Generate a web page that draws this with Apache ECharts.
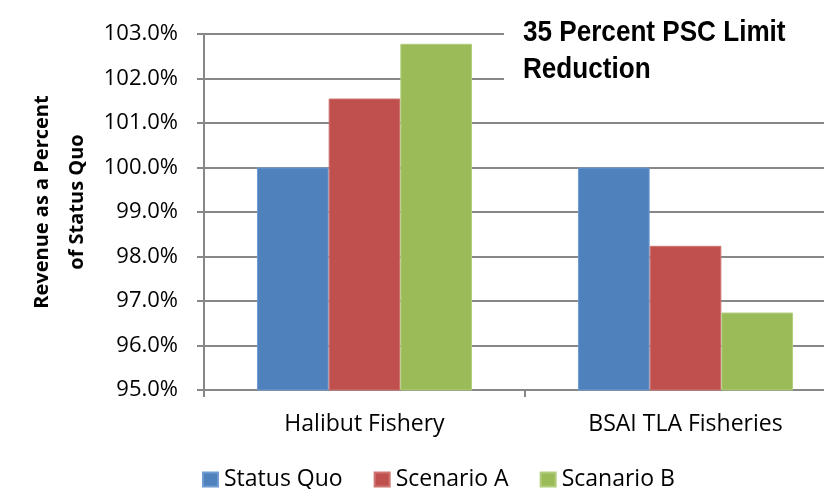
<!DOCTYPE html>
<html>
<head>
<meta charset="utf-8">
<script src="https://cdn.jsdelivr.net/npm/echarts@6/dist/echarts.min.js"></script>
<style>
html,body{margin:0;padding:0;background:#fff;}
#chart{width:824px;height:489px;}
</style>
</head>
<body>
<div id="chart"></div>
<script>
const categories = ['Halibut Fishery', 'BSAI TLA Fisheries'];
const seriesNames = ['Status Quo', 'Scenario A', 'Scanario B'];
const statusQuo = [100.0, 100.0];
const scenarioA = [101.55, 98.24];
const scenarioB = [102.78, 96.74];
const yTicks = { min: 95, max: 103, interval: 1 };
const titleText = '35 Percent PSC Limit\nReduction';
const yAxisTitle = 'Revenue as a Percent\nof Status Quo';

const colors = ['#4F81BD', '#C0504D', '#9BBB59'];
const borders = ['#6f9bd3', '#cf7471', '#b1cd7c'];
const values = [statusQuo, scenarioA, scenarioB];

const chart = echarts.init(document.getElementById('chart'), null, { renderer: 'canvas' });
const axisGray = '#878787';
const option = {
  animation: false,
  backgroundColor: '#ffffff',
  color: colors,
  grid: { left: 204, top: 34, bottom: 99, width: 642, containLabel: false, outerBoundsMode: 'none' },
  legend: {
    left: 202, top: 468, padding: 0,
    itemWidth: 15, itemHeight: 14, itemGap: 31,
    icon: 'rect',
    textStyle: { fontFamily: 'Open Sans', fontSize: 23, color: '#000', padding: [0, 0, 0, 1] },
    data: seriesNames
  },
  xAxis: {
    type: 'category',
    data: categories,
    axisLine: { lineStyle: { color: axisGray, width: 2 } },
    axisTick: { show: true, length: 7, inside: false, lineStyle: { color: axisGray, width: 2 } },
    axisLabel: { fontFamily: 'Open Sans', fontSize: 23, color: '#000', margin: 23 },
    splitLine: { show: false }
  },
  yAxis: {
    type: 'value',
    min: yTicks.min, max: yTicks.max, interval: yTicks.interval,
    axisLine: { show: true, lineStyle: { color: axisGray, width: 2 } },
    axisTick: { show: true, length: 7, lineStyle: { color: axisGray, width: 2 } },
    axisLabel: { fontFamily: 'Open Sans', fontSize: 22, color: '#000', margin: 26,
      formatter: v => v.toFixed(1) + '%' },
    splitLine: { lineStyle: { color: axisGray, width: 2 } }
  },
  series: seriesNames.map((n, i) => ({
    name: n,
    type: 'bar',
    data: values[i],
    barGap: '0%',
    barCategoryGap: '33%',
    itemStyle: { color: colors[i], borderColor: borders[i], borderWidth: 1 }
  })),
  graphic: [
    {
      type: 'rect', x: 504, y: 0, z: 100,
      shape: { width: 330, height: 96 },
      style: { fill: '#ffffff' }
    },
    {
      type: 'text', x: 523, y: 14, scaleX: 0.87, z: 101,
      style: { text: titleText, font: 'bold 30px "Liberation Sans", Arial, sans-serif',
        fill: '#000', lineHeight: 37 }
    },
    {
      type: 'text', x: 60, y: 202, rotation: Math.PI / 2, z: 101,
      style: { text: yAxisTitle, font: 'bold 20px "Open Sans", sans-serif', fill: '#000',
        align: 'center', verticalAlign: 'middle', textAlign: 'center', textVerticalAlign: 'middle', lineHeight: 35 }
    }
  ]
};
chart.setOption(option);
</script>
</body>
</html>
